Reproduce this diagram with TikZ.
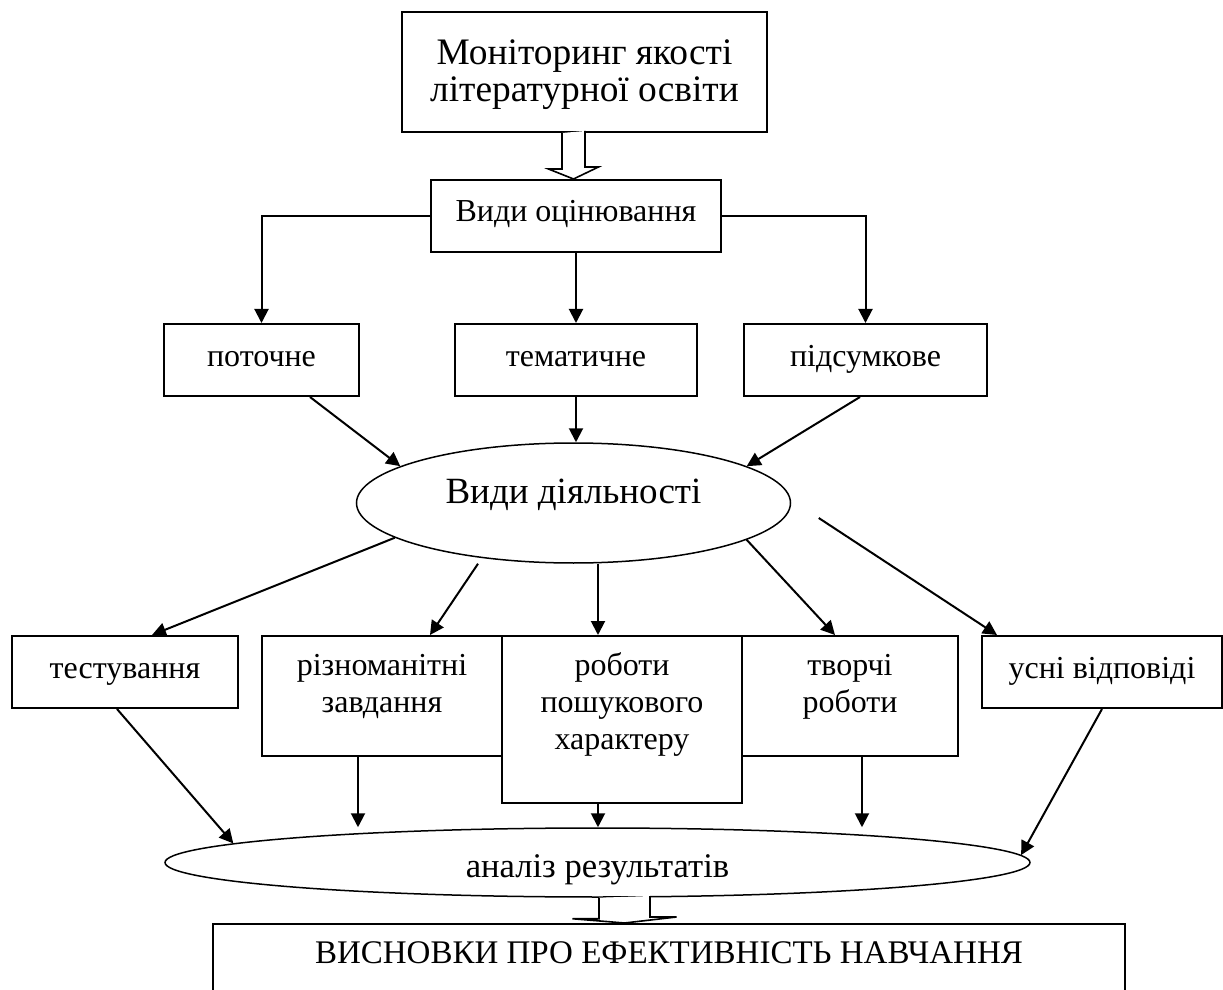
\documentclass[tikz,border=0pt]{standalone}
\usepackage{fontspec}
\setmainfont{Liberation Serif}
\usetikzlibrary{arrows.meta,shapes.geometric}

% text pinned to the top of a tall box
\newcommand\toptxt[3]{\parbox[c][#1][t]{#2}{\centering\strut #3}}

\begin{document}
\begin{tikzpicture}[
      x=0.5pt, y=-0.5pt,
      box/.style   = {rectangle, draw, line width=1pt, minimum height=36pt,
                      inner xsep=2pt, inner ysep=0pt, text height=10pt, text depth=4pt,
                      font=\fontsize{16}{18.5}\selectfont},
      tall/.style  = {rectangle, draw, line width=1pt, inner xsep=2pt, inner ysep=7pt,
                      font=\fontsize{16}{18.5}\selectfont},
      oval/.style  = {ellipse, draw, line width=0.75pt, inner sep=0pt},
      arr/.style   = {-{Triangle[length=7pt,width=7pt]}, line width=1pt},
      hollow/.style= {draw, line width=0.8pt, fill=white, line join=miter},
    ]
    \useasboundingbox (0,0) rectangle (1223,990);
    \clip (0,0) rectangle (1223,990);

    %% ------------------------------------------------ top
    \node[tall, minimum width=182.5pt, inner ysep=13.5pt,
          font=\fontsize{18.7}{18.5}\selectfont] (mon) at (584.5,72)
      {\toptxt{33pt}{178pt}{Моніторинг якості\\літературної освіти}};
    \node[box, minimum width=145pt] (vo) at (576,216) {Види оцінювання};
    \coordinate (ha) at ([xshift=-1.25pt]vo.north);
    \draw[hollow] (ha |- mon.south) ++(-11.5,0) -- ++(0,36) -- ++(-13.5,0) -- (ha)
      -- ++(25,-12) -- ++(-13.5,0) -- ++(0,-36);

    %% ------------------------------------------------ kinds of assessment
    \node[box, minimum width=97.5pt]  (pot) at (261.5,360) {поточне};
    \node[box, minimum width=121pt]   (tem) at (576,360)   {тематичне};
    \node[box, minimum width=121.5pt] (pid) at (865.5,360) {підсумкове};
    \draw[arr] (vo.west) -| (pot.north);
    \draw[arr] (vo.south) -- (tem.north);
    \draw[arr] (vo.east) -| (pid.north);

    %% ------------------------------------------------ activities
    \node[oval, minimum width=217pt, minimum height=60pt, text height=8pt, text depth=8pt,
          font=\fontsize{18.5}{20}\selectfont] (act) at (573.5,503) {Види діяльності};
    \draw[arr] ([xshift=24.25pt]pot.south) -- (act.168);
    \draw[arr] (tem.south) -- (tem.south |- act.north);
    \draw[arr] ([xshift=-2.75pt]pid.south) -- (act.12.7);

    \node[box, minimum width=113pt] (tst) at (125,672) {тестування};
    \node[tall, minimum width=120pt] (riz) at (382,696)
      {\toptxt{46pt}{110pt}{різноманітні\\завдання}};
    \node[tall, minimum width=120pt] (rob) at (622,719.5)
      {\toptxt{69.5pt}{110pt}{роботи\\пошукового\\характеру}};
    \node[tall, minimum width=108pt] (tvo) at (850,696)
      {\toptxt{46pt}{100pt}{творчі\\роботи}};
    \node[box, minimum width=120pt] (usn) at (1102,672) {усні відповіді};

    \coordinate (m1) at ([xshift=-12pt]rob.north);
    \draw[arr] (act.191) -- ([xshift=13.5pt]tst.north);
    \draw[arr] ([xshift=-47.75pt]act.south) -- ([xshift=24pt]riz.north);
    \draw[arr] (m1 |- act.south) -- (m1);
    \draw[arr] (act.-12.3) -- ([xshift=-7.5pt]tvo.north);
    \draw[arr] ([xshift=13.75pt,yshift=-7.5pt]act.east) -- ([xshift=-52.5pt]usn.north);

    %% ------------------------------------------------ results
    \node[oval, minimum width=432.5pt, minimum height=34.5pt, text height=14.5pt,
          text depth=0pt, font=\fontsize{17.3}{20}\selectfont] (an2) at (597.5,862.5)
      {аналіз результатів};
    \coordinate (r1) at ([xshift=-12pt]riz.south);
    \coordinate (r2) at ([xshift=-12pt]rob.south);
    \coordinate (r3) at ([xshift=6pt]tvo.south);
    \draw[arr] ([xshift=-4pt]tst.south) -- (an2.177.06);
    \draw[arr] (r1) -- (r1 |- an2.north);
    \draw[arr] (r2) -- (r2 |- an2.north);
    \draw[arr] (r3) -- (r3 |- an2.north);
    \draw[arr] (usn.south) -- (an2.1.75);

    \node[tall, minimum width=456pt, font=\fontsize{16.5}{18.5}\selectfont] (res) at (669,984)
      {\toptxt{46pt}{440pt}{ВИСНОВКИ ПРО ЕФЕКТИВНІСТЬ НАВЧАННЯ}};
    \coordinate (hb) at ([xshift=13.5pt]an2.south);
    \draw[hollow] (hb) ++(-25.5,0) -- ++(0,21) -- ++(-26.5,0) -- (hb |- res.north)
      -- ++(52,-6) -- ++(-26.5,0) -- ++(0,-21);
  \end{tikzpicture}
\end{document}
